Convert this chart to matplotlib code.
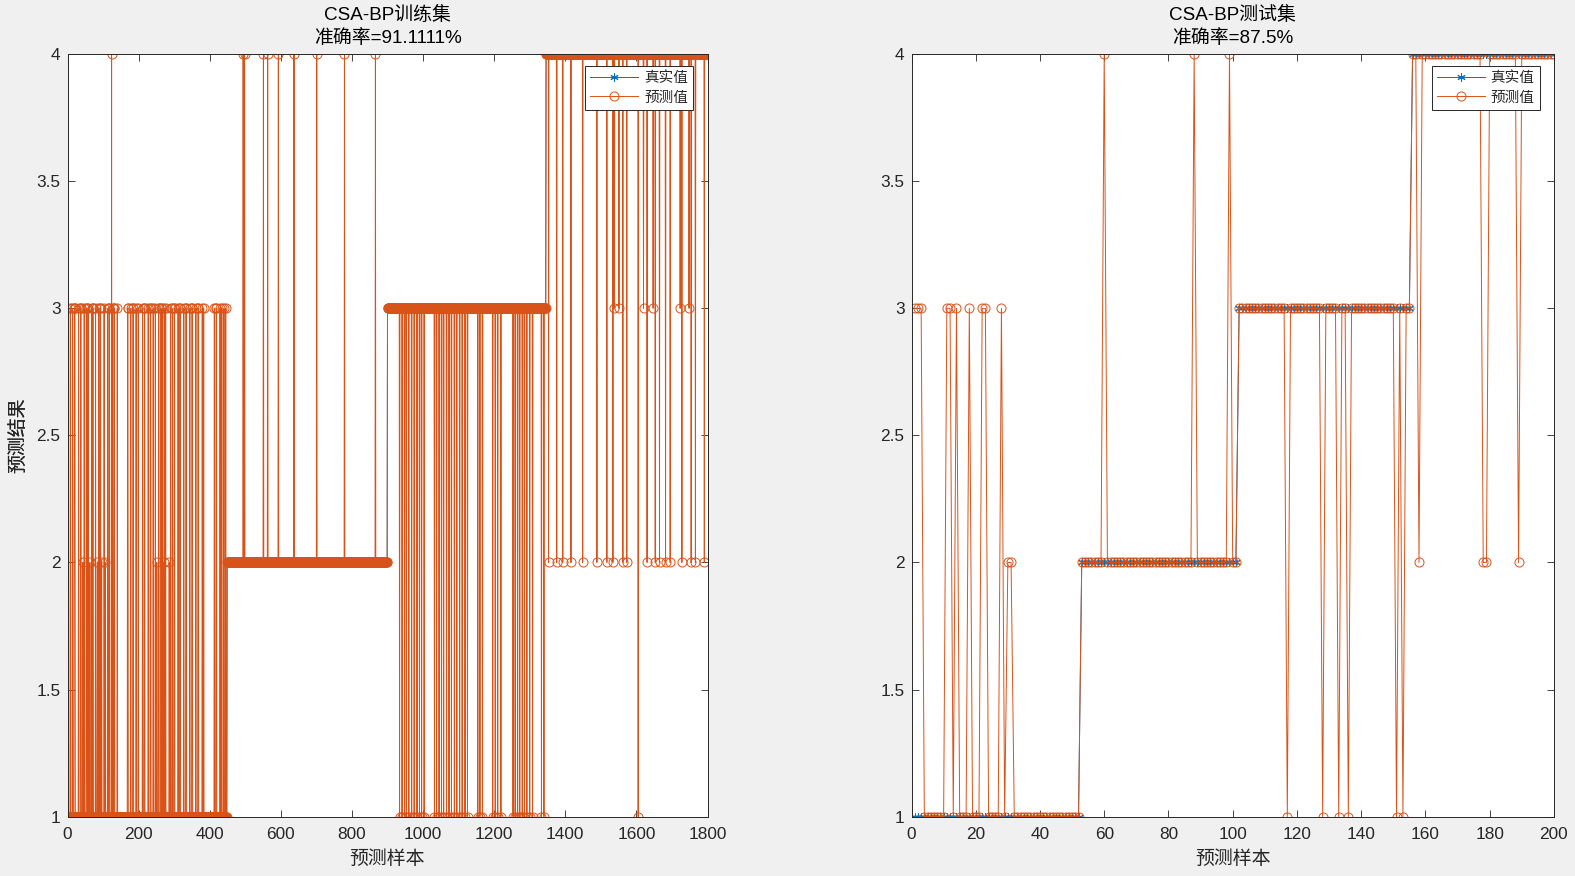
import numpy as np
import matplotlib
matplotlib.use('Agg')
import matplotlib.pyplot as plt
from matplotlib.ticker import FuncFormatter

plt.rcParams['font.family'] = ['Liberation Sans', 'Noto Sans CJK SC']

# ---------------- data ----------------
classes = [1, 2, 3, 4]

# training set: samples per true class (sorted), and mis-predicted samples (1-based index)
train_class_counts = [448, 451, 446, 455]
train_pred_as_1 = [934, 941, 948, 953, 960, 968, 975, 983, 990, 996, 1003,
                   1032, 1038, 1045, 1052, 1058, 1066, 1073, 1080, 1088, 1095, 1103, 1110, 1118, 1125,
                   1154, 1160, 1167, 1196, 1203, 1210, 1219,
                   1253, 1259, 1266, 1272, 1279, 1285, 1292, 1300, 1308, 1333, 1340, 1605]
train_pred_as_2 = [43, 63, 84, 96, 106, 251, 270, 286,
                   1353, 1376, 1393, 1416, 1449, 1489, 1517, 1534, 1562, 1573,
                   1630, 1653, 1665, 1682, 1695, 1728, 1754, 1766, 1791]
train_pred_as_3 = [8, 14, 19, 20, 21, 31, 37, 38, 47, 53, 54, 58, 68, 71, 72, 79, 88, 92, 93,
                   103, 113, 117, 118, 127, 131, 132, 140,
                   169, 170, 178, 184, 185, 193, 199, 211, 216, 217, 227, 233, 234, 241,
                   247, 256, 257, 263, 267, 272, 276,
                   290, 295, 300, 301, 311, 316, 317, 327, 333, 334, 344, 350, 351, 361, 367, 368,
                   379, 383,
                   413, 418, 419, 429, 434, 440, 445,
                   1538, 1551, 1620, 1647, 1723, 1748]
train_pred_as_4 = [124, 494, 498, 551, 563, 593, 637, 701, 779, 866]
train_title = ['CSA-BP训练集', '准确率=91.1111%']

# test set
test_class_counts = [52, 49, 54, 45]
test_pred_as_1 = [117, 128, 133, 136, 151, 153]
test_pred_as_2 = [30, 31, 158, 178, 179, 189]
test_pred_as_3 = [1, 2, 3, 11, 12, 14, 18, 22, 23, 28]
test_pred_as_4 = [60, 88, 99]
test_title = ['CSA-BP测试集', '准确率=87.5%']

train_xticks = [0, 200, 400, 600, 800, 1000, 1200, 1400, 1600, 1800]
test_xticks = [0, 20, 40, 60, 80, 100, 120, 140, 160, 180, 200]
yticks = [1, 1.5, 2, 2.5, 3, 3.5, 4]

legend_labels = ['真实值', '预测值']
xlabel_text = '预测样本'
ylabel_text = '预测结果'


def build(counts, p1, p2, p3, p4):
    true = np.repeat(classes, counts)
    pred = true.copy()
    for val, idx in zip(classes, [p1, p2, p3, p4]):
        if idx:
            pred[np.array(idx) - 1] = val
    x = np.arange(1, len(true) + 1)
    return x, true, pred


BLUE = '#0072BD'
ORANGE = '#D95319'
DARK = '#262626'

W, H = 1575, 876
fig = plt.figure(figsize=(W / 100, H / 100), dpi=100)
fig.patch.set_facecolor('#f0f0f0')

ax_top_px, ax_bot_px = 54.2, 816.6
panels = [
    dict(left=67.5, width=640.0, data=(train_class_counts, train_pred_as_1, train_pred_as_2,
                                        train_pred_as_3, train_pred_as_4),
         title=train_title, xticks=train_xticks, xlim=(0, 1800)),
    dict(left=911.5, width=642.4, data=(test_class_counts, test_pred_as_1, test_pred_as_2,
                                        test_pred_as_3, test_pred_as_4),
         title=test_title, xticks=test_xticks, xlim=(0, 200)),
]

TICK_FS = 12.4
LAB_FS = 13.6

for p in panels:
    ah = ax_bot_px - ax_top_px
    ax = fig.add_axes([p['left'] / W, (H - ax_bot_px) / H, p['width'] / W, ah / H])
    ax.set_facecolor('white')
    x, true, pred = build(*p['data'])
    ax.plot(x, true, color=BLUE, lw=0.7, marker=(6, 2, 0), ms=6, mew=0.7, label=legend_labels[0])
    ax.plot(x, pred, color=ORANGE, lw=0.7, marker='o', ms=6.5, mfc='none', mew=0.7,
            label=legend_labels[1])
    ax.set_xlim(*p['xlim'])
    ax.set_ylim(1, 4)
    ax.set_xticks(p['xticks'])
    ax.set_yticks(yticks)
    ax.yaxis.set_major_formatter(FuncFormatter(lambda v, _: '%g' % v))
    ax.tick_params(direction='in', length=4.8, width=0.6, top=True, right=True,
                   labelsize=TICK_FS, colors=DARK)
    ax.tick_params(axis='x', pad=7.5)
    ax.tick_params(axis='y', pad=5)
    for s in ax.spines.values():
        s.set_color(DARK)
        s.set_linewidth(0.7)
    # titles
    ax.text(0.5, 1 + (ax_top_px - 14.5) / ah, p['title'][0], transform=ax.transAxes,
            ha='center', va='center', fontsize=LAB_FS, color='black')
    ax.text(0.5, 1 + (ax_top_px - 38.5) / ah, p['title'][1], transform=ax.transAxes,
            ha='center', va='center', fontsize=LAB_FS, color='black')
    # axis labels
    ax.set_xlabel(xlabel_text, fontsize=LAB_FS, color=DARK)
    ax.xaxis.set_label_coords(0.5, -(858.8 - ax_bot_px) / ah)
    ax.xaxis.label.set_va('center')
    ax.set_ylabel(ylabel_text, fontsize=LAB_FS, color=DARK)
    ax.yaxis.set_label_coords(-(p['left'] - 18.6) / p['width'], 0.5)
    ax.yaxis.label.set_va('center')
    leg = ax.legend(loc='upper right',
                    bbox_to_anchor=(1 - 14.3 / p['width'], 1 - 12.1 / ah),
                    borderaxespad=0, frameon=True, fancybox=False, framealpha=1,
                    edgecolor=DARK, fontsize=10.5, handlelength=3.3, handletextpad=0.4,
                    labelspacing=0.35, borderpad=0.35)
    leg.get_frame().set_linewidth(0.7)
    for t in leg.get_texts():
        t.set_color(DARK)

fig.savefig('out.png', dpi=100, facecolor=fig.get_facecolor())
